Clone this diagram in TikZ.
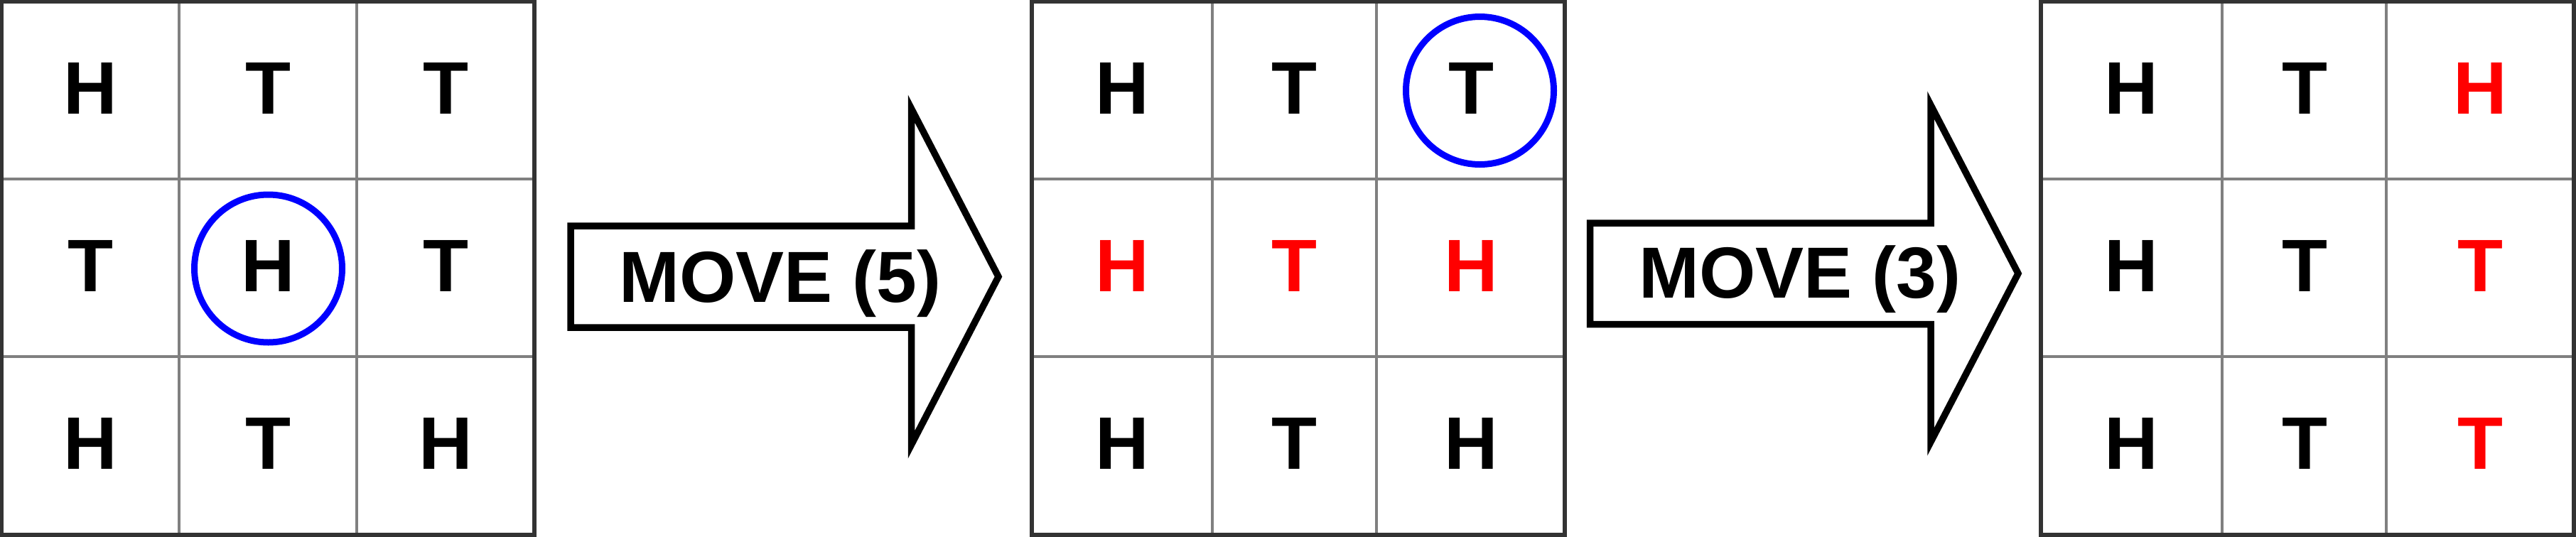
\documentclass[tikz,border=0pt]{standalone}
\usepackage{fontspec}
\setmainfont{Liberation Sans}
\definecolor{framegray}{HTML}{333333}
\definecolor{linegray}{HTML}{808080}
\tikzset{
  cellline/.style={line width=0.045cm, linegray},
  frame/.style={line width=0.055cm, framegray},
  coin/.style={font=\fontsize{29.8}{32}\selectfont\bfseries, inner sep=0pt},
  flipped/.style={coin, red},
  pick/.style={line width=0.09cm, blue},
  bigarrow/.style={line width=0.095cm, black, miter limit=20},
  movelabel/.style={font=\fontsize{29}{32}\selectfont\bfseries, inner sep=0pt, anchor=base}
}
\begin{document}
\begin{tikzpicture}
\useasboundingbox (0,0) rectangle (36.25,7.55);

% first board
\draw[cellline] (2.52,0.02) -- (2.52,7.53);
\draw[cellline] (5.02,0.02) -- (5.02,7.53);
\draw[cellline] (0.02,2.53) -- (7.52,2.53);
\draw[cellline] (0.02,5.03) -- (7.52,5.03);
\draw[frame] (0.02,0.02) rectangle (7.52,7.53);
\node[coin] (a11) at (1.27,6.31) {H};
\node[coin] (a12) at (3.77,6.31) {T};
\node[coin] (a13) at (6.27,6.31) {T};
\node[coin] (a21) at (1.27,3.81) {T};
\node[coin] (a22) at (3.77,3.81) {H};
\node[coin] (a23) at (6.27,3.81) {T};
\node[coin] (a31) at (1.27,1.31) {H};
\node[coin] (a32) at (3.77,1.31) {T};
\node[coin] (a33) at (6.27,1.31) {H};
\draw[pick] (3.775,3.77) circle (1.04);

% first move
\draw[bigarrow] (8.03,4.37) -- (12.825,4.37) -- (12.825,6.02) -- (14.05,3.655) -- (12.825,1.29) -- (12.825,2.94) -- (8.03,2.94) -- cycle;
\node[movelabel] (move5) at (10.98,3.30) {MOVE (5)};

% second move comes after the middle board
\draw[cellline] (17.06,0.02) -- (17.06,7.53);
\draw[cellline] (19.37,0.02) -- (19.37,7.53);
\draw[cellline] (14.52,2.53) -- (22.02,2.53);
\draw[cellline] (14.52,5.03) -- (22.02,5.03);
\draw[frame] (14.52,0.02) rectangle (22.02,7.53);
\node[coin] (b11) at (15.79,6.31) {H};
\node[coin] (b12) at (18.215,6.31) {T};
\node[coin] (b13) at (20.70,6.31) {T};
\node[flipped] (b21) at (15.79,3.81) {H};
\node[flipped] (b22) at (18.215,3.81) {T};
\node[flipped] (b23) at (20.70,3.81) {H};
\node[coin] (b31) at (15.79,1.31) {H};
\node[coin] (b32) at (18.215,1.31) {T};
\node[coin] (b33) at (20.70,1.31) {H};
\draw[pick] (20.825,6.275) circle (1.04);

\draw[bigarrow] (22.375,4.41) -- (27.17,4.41) -- (27.17,6.07) -- (28.40,3.70) -- (27.17,1.33) -- (27.17,2.985) -- (22.375,2.985) -- cycle;
\node[movelabel] (move3) at (25.33,3.355) {MOVE (3)};

% last board
\draw[cellline] (31.27,0.02) -- (31.27,7.53);
\draw[cellline] (33.58,0.02) -- (33.58,7.53);
\draw[cellline] (28.72,2.53) -- (36.22,2.53);
\draw[cellline] (28.72,5.03) -- (36.22,5.03);
\draw[frame] (28.72,0.02) rectangle (36.22,7.53);
\node[coin] (c11) at (29.995,6.31) {H};
\node[coin] (c12) at (32.435,6.31) {T};
\node[flipped] (c13) at (34.905,6.31) {H};
\node[coin] (c21) at (29.995,3.81) {H};
\node[coin] (c22) at (32.435,3.81) {T};
\node[flipped] (c23) at (34.905,3.81) {T};
\node[coin] (c31) at (29.995,1.31) {H};
\node[coin] (c32) at (32.435,1.31) {T};
\node[flipped] (c33) at (34.905,1.31) {T};
\end{tikzpicture}
\end{document}
